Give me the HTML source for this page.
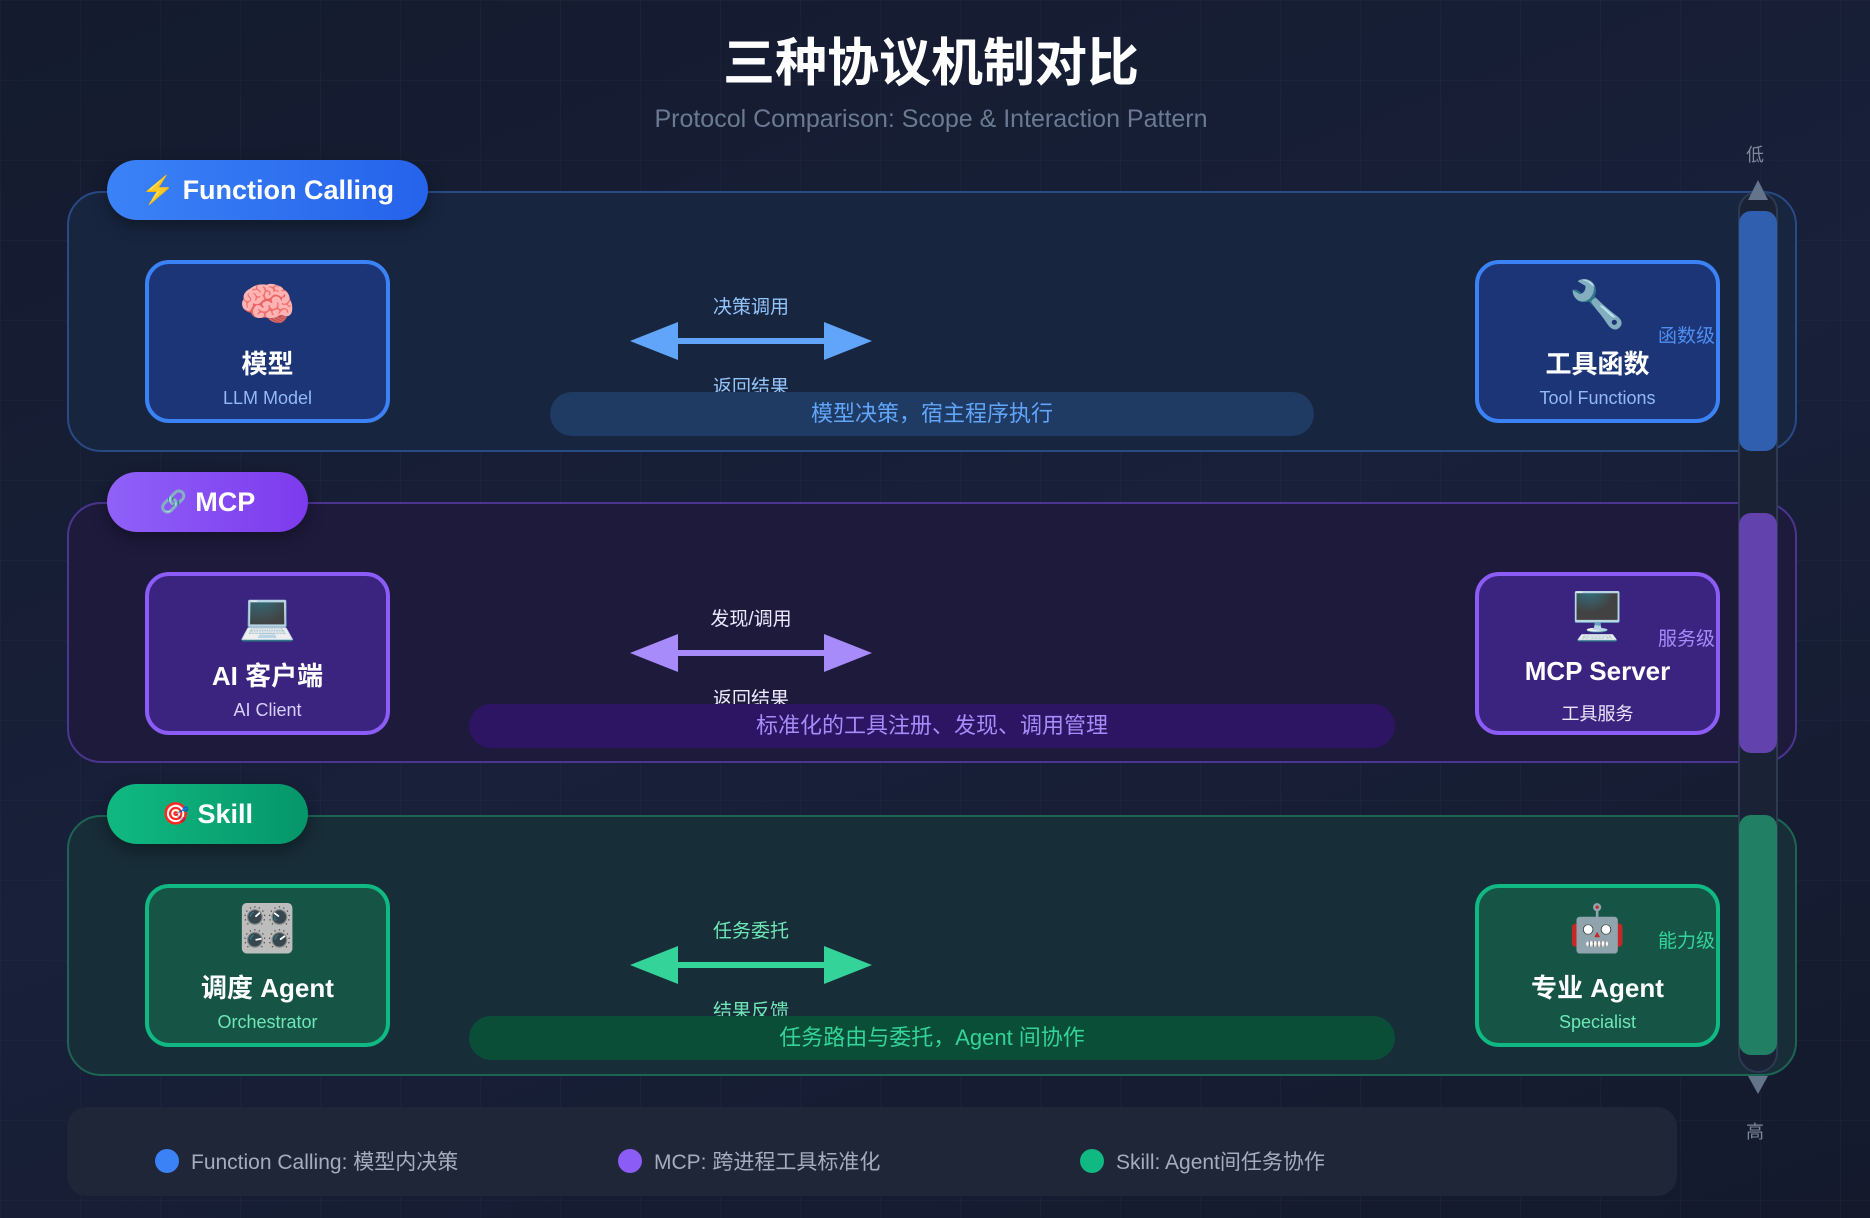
<!DOCTYPE html>
<html><head><meta charset="utf-8"><style>
*{margin:0;padding:0;box-sizing:border-box}
body{width:1870px;height:1218px;overflow:hidden;position:relative;font-family:"Liberation Sans","Noto Sans CJK SC",sans-serif;
background:linear-gradient(160deg,#141b2e 0%,#18203a 50%,#141a2c 100%);}
.grid{position:absolute;inset:0;background-image:linear-gradient(rgba(255,255,255,.025) 1px,transparent 1px),linear-gradient(90deg,rgba(255,255,255,.025) 1px,transparent 1px);background-size:80px 80px}
.a{position:absolute}
.title{left:0;width:1862px;top:21px;text-align:center;color:#fff;font-size:52px;font-weight:bold}
.sub{left:0;width:1862px;top:105px;text-align:center;color:#6b7a93;font-size:25px}
.panel{left:67px;width:1730px;height:261px;border-radius:34px;border:2px solid}
.badge{height:60px;border-radius:30px;color:#fff;font-weight:bold;font-size:27px;display:flex;align-items:center;justify-content:center;box-shadow:0 6px 16px rgba(0,0,0,.35)}
.node{width:245px;height:163px;border-radius:24px;border:4px solid;text-align:center}
.node .ic{position:absolute;left:0;width:100%;top:12px;font-size:46px;line-height:56px}
.node .t{position:absolute;left:0;width:100%;top:80px;font-size:26px;font-weight:bold;color:#fff}
.node .s{position:absolute;left:0;width:100%;top:124px;font-size:18px}
.lbl{width:242px;text-align:center;font-size:19px}
.pill{height:44px;border-radius:22px;text-align:center;font-size:22px;line-height:44px}
.lvl{font-size:19px}
.bar{left:1739px;width:38px;border-radius:12px}
.leg{font-size:21px;color:#a3adbd;display:flex;align-items:center}
.dot{width:24px;height:24px;border-radius:50%;margin-right:12px}
</style></head><body>
<div class="grid"></div>
<div class="a title">三种协议机制对比</div>
<div class="a sub">Protocol Comparison: Scope &amp; Interaction Pattern</div>

<div class="a panel" style="top:191px;background:#18253f;border-color:#284a85"></div>
<div class="a panel" style="top:502px;background:#1e1a3c;border-color:#4b3590"></div>
<div class="a panel" style="top:815px;background:#172d37;border-color:#1d6552"></div>

<div class="a" style="left:1738px;top:191px;width:40px;height:882px;border:2px solid #2d3a52;border-radius:20px;background:#1a2236"></div>
<div class="a bar" style="top:211px;height:240px;background:#2f5fae"></div>
<div class="a bar" style="top:513px;height:240px;background:#6242ad"></div>
<div class="a bar" style="top:815px;height:240px;background:#218063"></div>
<svg class="a" style="left:1740px;top:178px" width="36" height="24"><polygon points="18,2 28,22 8,22" fill="#64748b"/></svg>
<svg class="a" style="left:1740px;top:1074px" width="36" height="22"><polygon points="8,2 28,2 18,20" fill="#64748b"/></svg>
<div class="a" style="left:1746px;top:141px;color:#7c889c;font-size:18px">低</div>
<div class="a" style="left:1746px;top:1118px;color:#7c889c;font-size:18px">高</div>

<div class="a badge" style="left:107px;top:160px;width:321px;background:linear-gradient(90deg,#3b82f6,#2563eb)"><span style="color:#fbbf24;margin-right:8px">⚡</span>Function Calling</div>
<div class="a badge" style="left:107px;top:472px;width:201px;background:linear-gradient(90deg,#9061f9,#7c3aed)"><span style="margin-right:8px;font-size:22px">🔗</span>MCP</div>
<div class="a badge" style="left:107px;top:784px;width:201px;background:linear-gradient(90deg,#10b981,#059669)"><span style="margin-right:8px;font-size:22px">🎯</span>Skill</div>

<div class="a node" style="left:145px;top:260px;background:#1c3577;border-color:#3b82f6"><div class="ic">🧠</div><div class="t">模型</div><div class="s" style="color:#93b8f5">LLM Model</div></div>
<div class="a node" style="left:1475px;top:260px;background:#1c3577;border-color:#3b82f6"><div class="ic">🔧</div><div class="t">工具函数</div><div class="s" style="color:#93b8f5">Tool Functions</div></div>
<div class="a lvl" style="left:1658px;top:321px;color:#4f8ef0">函数级</div>
<div class="a lbl" style="left:630px;top:292px;color:#93c5fd">决策调用</div>
<div class="a lbl" style="left:630px;top:372px;color:#93c5fd">返回结果</div>
<svg class="a" style="left:628px;top:320px" width="246" height="42"><line x1="40" y1="21" x2="206" y2="21" stroke="#60a5fa" stroke-width="6"/><polygon points="2,21 50,2 50,40" fill="#60a5fa"/><polygon points="244,21 196,2 196,40" fill="#60a5fa"/></svg>
<div class="a pill" style="left:550px;top:392px;width:764px;background:#1f3a63;color:#60a5fa">模型决策，宿主程序执行</div>

<div class="a node" style="left:145px;top:572px;background:#3a2480;border-color:#8b5cf6"><div class="ic">💻</div><div class="t">AI 客户端</div><div class="s" style="color:#d8cffa">AI Client</div></div>
<div class="a node" style="left:1475px;top:572px;background:#3a2480;border-color:#8b5cf6"><div class="ic">🖥️</div><div class="t">MCP Server</div><div class="s" style="color:#ece6fd">工具服务</div></div>
<div class="a lvl" style="left:1658px;top:624px;color:#a78bfa">服务级</div>
<div class="a lbl" style="left:630px;top:604px;color:#ede9fe">发现/调用</div>
<div class="a lbl" style="left:630px;top:684px;color:#ede9fe">返回结果</div>
<svg class="a" style="left:628px;top:632px" width="246" height="42"><line x1="40" y1="21" x2="206" y2="21" stroke="#a78bfa" stroke-width="6"/><polygon points="2,21 50,2 50,40" fill="#a78bfa"/><polygon points="244,21 196,2 196,40" fill="#a78bfa"/></svg>
<div class="a pill" style="left:469px;top:704px;width:926px;background:#2d1563;color:#a78bfa">标准化的工具注册、发现、调用管理</div>

<div class="a node" style="left:145px;top:884px;background:#165546;border-color:#10b981"><div class="ic">🎛️</div><div class="t">调度 Agent</div><div class="s" style="color:#6ee7b7">Orchestrator</div></div>
<div class="a node" style="left:1475px;top:884px;background:#165546;border-color:#10b981"><div class="ic">🤖</div><div class="t">专业 Agent</div><div class="s" style="color:#6ee7b7">Specialist</div></div>
<div class="a lvl" style="left:1658px;top:926px;color:#34d399">能力级</div>
<div class="a lbl" style="left:630px;top:916px;color:#6ee7b7">任务委托</div>
<div class="a lbl" style="left:630px;top:996px;color:#6ee7b7">结果反馈</div>
<svg class="a" style="left:628px;top:944px" width="246" height="42"><line x1="40" y1="21" x2="206" y2="21" stroke="#34d399" stroke-width="6"/><polygon points="2,21 50,2 50,40" fill="#34d399"/><polygon points="244,21 196,2 196,40" fill="#34d399"/></svg>
<div class="a pill" style="left:469px;top:1016px;width:926px;background:#0a4e38;color:#34d399">任务路由与委托，Agent 间协作</div>

<div class="a" style="left:67px;top:1107px;width:1610px;height:89px;border-radius:20px;background:#1f2638"></div>
<div class="a leg" style="left:155px;top:1146px"><div class="dot" style="background:#3b82f6"></div>Function Calling: 模型内决策</div>
<div class="a leg" style="left:618px;top:1146px"><div class="dot" style="background:#8b5cf6"></div>MCP: 跨进程工具标准化</div>
<div class="a leg" style="left:1080px;top:1146px"><div class="dot" style="background:#10b981"></div>Skill: Agent间任务协作</div>
</body></html>
